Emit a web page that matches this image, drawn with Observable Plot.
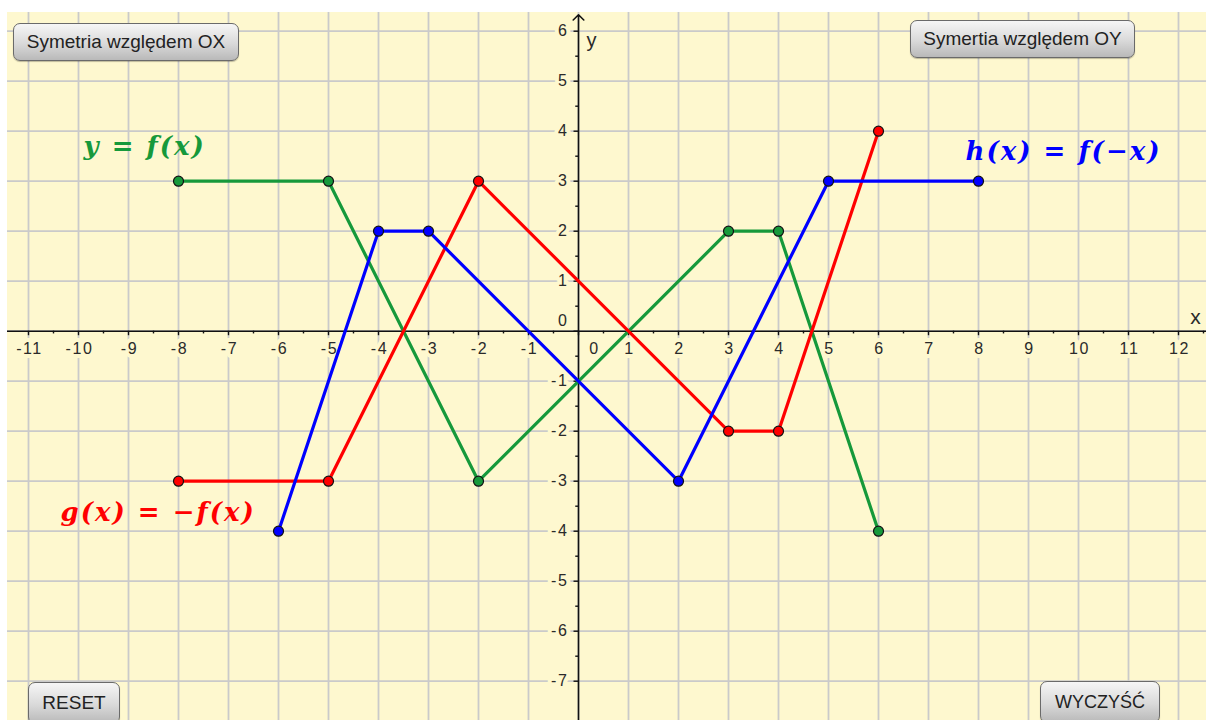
<!DOCTYPE html>
<html>
<head>
<meta charset="utf-8">
<script src="https://cdn.jsdelivr.net/npm/d3@7"></script>
<script src="https://cdn.jsdelivr.net/npm/@observablehq/plot@0.6"></script>
<style>
  html, body { margin: 0; padding: 0; background: #ffffff; width: 1206px; height: 720px; overflow: hidden; }
  #chart { position: absolute; left: 7px; top: 12px; }
  .btn {
    position: absolute; box-sizing: border-box;
    border: 1px solid #6a6a6a; border-radius: 7px;
    background: linear-gradient(#f6f6f6, #d9d9d9 55%, #b9b9b9);
    font-family: "Liberation Sans", Arial, sans-serif; color: #222;
    display: flex; align-items: center; justify-content: center;
    box-shadow: 0 1px 1px rgba(0,0,0,0.25);
  }
</style>
</head>
<body>
<div id="chart"></div>
<div class="btn" style="left:13px;top:23px;width:226px;height:38px;font-size:19px;">Symetria względem OX</div>
<div class="btn" style="left:910px;top:20px;width:225px;height:38px;font-size:19px;">Symertia względem OY</div>
<div class="btn" style="left:28px;top:682px;width:92px;height:42px;font-size:19px;">RESET</div>
<div class="btn" style="left:1040px;top:681px;width:120px;height:42px;font-size:18px;">WYCZYŚĆ</div>
<script>
// ---- data ----
const fX = [-8, -5, -2, 3, 4, 6];
const fY = [3, 3, -3, 2, 2, -4];
const gX = [-8, -5, -2, 3, 4, 6];
const gY = [-3, -3, 3, -2, -2, 4];
const hX = [8, 5, 2, -3, -4, -6];
const hY = [3, 3, -3, 2, 2, -4];

const xTicks = [-11, -10, -9, -8, -7, -6, -5, -4, -3, -2, -1, 1, 2, 3, 4, 5, 6, 7, 8, 9, 10, 11, 12];
const yTicks = [-7, -6, -5, -4, -3, -2, -1, 1, 2, 3, 4, 5, 6];
const xTickLabels = ["-11", "-10", "-9", "-8", "-7", "-6", "-5", "-4", "-3", "-2", "-1", "1", "2", "3", "4", "5", "6", "7", "8", "9", "10", "11", "12"];
const yTickLabels = ["-7", "-6", "-5", "-4", "-3", "-2", "-1", "1", "2", "3", "4", "5", "6"];

const seriesNames = ["f", "g", "h"];
const seriesColors = ["#16993b", "#ff0000", "#0000ff"];
const mathLabels = ["y = f(x)", "g(x) = −f(x)", "h(x) = f(−x)"];
const mathLabelX = [-9.9, -10.36, 7.74];
const mathLabelY = [3.69, -3.63, 3.59];

// ---- build tables ----
const series = [
  fX.map((x, i) => ({s: "f", x, y: fY[i]})),
  gX.map((x, i) => ({s: "g", x, y: gY[i]})),
  hX.map((x, i) => ({s: "h", x, y: hY[i]}))
];
const allTicksX = [...xTicks, 0];
const allTicksY = [...yTicks, 0];
const minorX = allTicksX.map(d => d + 0.5);
const minorY = allTicksY.map(d => d + 0.5);
const xLab = xTicks.map((v, i) => ({v, t: xTickLabels[i]}));
const yLab = yTicks.map((v, i) => ({v, t: yTickLabels[i]}));
const labels = mathLabels.map((t, i) => ({t, x: mathLabelX[i], y: mathLabelY[i], c: seriesColors[i]}));

const BG = "#fef8cf";
const GRID = "#cacaca";
const X0 = -11.42, X1 = 12.56, Y0 = -7.786, Y1 = 6.374;
const tickFont = {fontFamily: "Liberation Sans, Arial, sans-serif", fontSize: 16, fill: "#2a2a2a",
  stroke: BG, strokeWidth: 8, paintOrder: "stroke"};

const marks = [
  Plot.ruleX(allTicksX, {stroke: GRID, strokeWidth: 1.8}),
  Plot.ruleY(allTicksY, {stroke: GRID, strokeWidth: 1.8}),
  // tick labels (with background halo that interrupts the grid)
  Plot.text(xLab, {x: "v", y: () => 0, text: "t", dx: 1, dy: 18, textAnchor: "middle", ...tickFont}),
  Plot.text(yLab, {x: () => 0, y: "v", text: "t", dx: -10, textAnchor: "end", ...tickFont}),
  Plot.text(["0"], {x: () => 0, y: () => 0, text: d => d, dx: 16, dy: 18, textAnchor: "middle", ...tickFont}),
  Plot.text(["0"], {x: () => 0, y: () => 0, text: d => d, dx: -10, dy: -10, textAnchor: "end", ...tickFont}),
  // axes
  Plot.ruleY([0], {x1: X0, x2: X1, stroke: "#111", strokeWidth: 1.6}),
  Plot.arrow([0], {x1: 0, x2: 0, y1: Y0, y2: 6.33, stroke: "#111", strokeWidth: 1.6, headAngle: 90, headLength: 7}),
  Plot.ruleX(allTicksX, {y1: 0, y2: -0.09, stroke: "#111", strokeWidth: 1.4}),
  Plot.ruleX(minorX, {y1: 0, y2: -0.055, stroke: "#111", strokeWidth: 1.4}),
  Plot.ruleY(allTicksY, {x1: 0, x2: -0.09, stroke: "#111", strokeWidth: 1.4}),
  Plot.ruleY(minorY, {x1: 0, x2: -0.055, stroke: "#111", strokeWidth: 1.4}),
  Plot.text(["y"], {x: () => 0.16, y: () => 5.81, text: d => d, textAnchor: "start",
    fontFamily: "Liberation Sans, Arial, sans-serif", fontSize: 20, fill: "#2a2a2a"}),
  Plot.text(["x"], {x: () => 12.34, y: () => 0.28, text: d => d, textAnchor: "middle",
    fontFamily: "Liberation Sans, Arial, sans-serif", fontSize: 21, fill: "#2a2a2a"}),
];
series.forEach((data, i) => {
  marks.push(Plot.line(data, {x: "x", y: "y", stroke: seriesColors[i], strokeWidth: 3.2, strokeLinejoin: "round"}));
});
series.forEach((data, i) => {
  marks.push(Plot.dot(data, {x: "x", y: "y", r: 5, fill: seriesColors[i], stroke: "#111", strokeWidth: 1.2}));
});
marks.push(Plot.text(labels, {x: "x", y: "y", text: "t", fill: "c", textAnchor: "start",
  fontFamily: "DejaVu Serif, serif", fontWeight: "bold", fontStyle: "italic", fontSize: 26}));

const chart = Plot.plot({
  width: 1199,
  height: 708,
  margin: 0,
  x: {domain: [X0, X1], axis: null},
  y: {domain: [Y0, Y1], axis: null},
  style: {background: BG, overflow: "hidden"},
  marks
});
// letter spacing tweaks
const tickTexts = new Set([...xTickLabels, ...yTickLabels, "0"]);
d3.select(chart).selectAll("text")
  .filter(function () { return mathLabels.includes(this.textContent); })
  .style("letter-spacing", "2px");
d3.select(chart).selectAll("text")
  .filter(function () { return tickTexts.has(this.textContent); })
  .style("letter-spacing", "1.6px");
document.getElementById("chart").appendChild(chart);
</script>
</body>
</html>
